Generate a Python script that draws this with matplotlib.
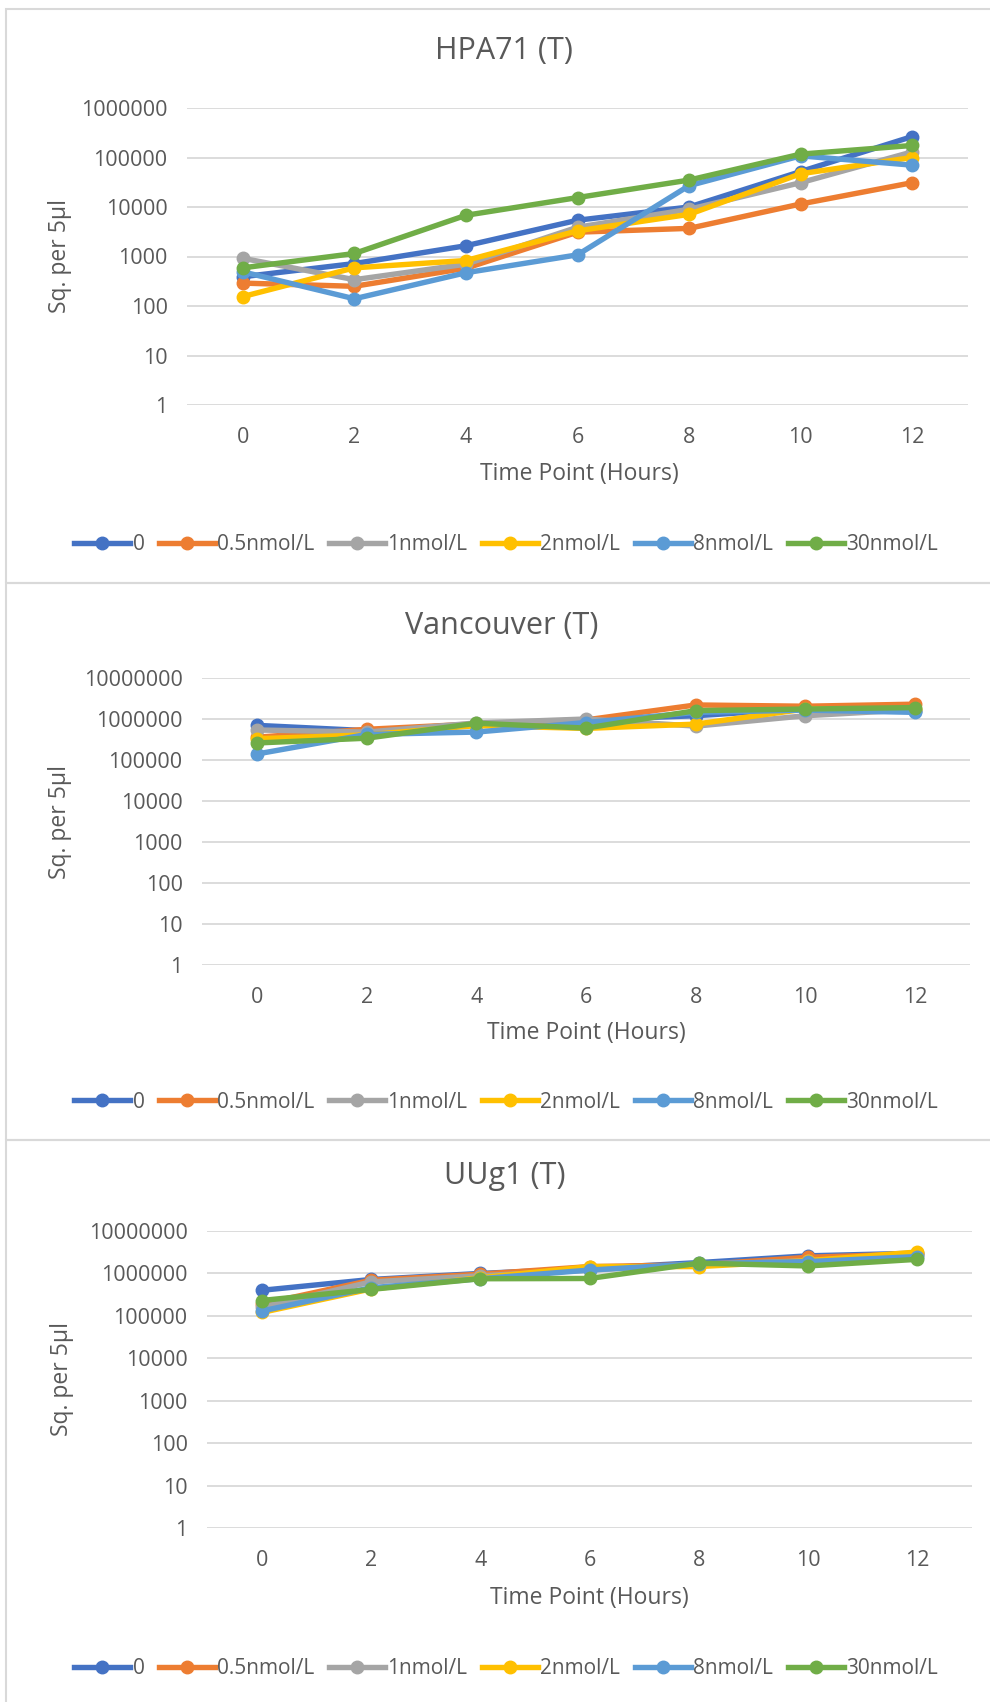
import matplotlib.pyplot as plt
from matplotlib.patches import Rectangle
from matplotlib.lines import Line2D

hours = [0, 2, 4, 6, 8, 10, 12]
series_names = ['0', '0.5nmol/L', '1nmol/L', '2nmol/L', '8nmol/L', '30nmol/L']
colors = ['#4472C4', '#ED7D31', '#A5A5A5', '#FFC000', '#5B9BD5', '#70AD47']

# HPA71 (T)
hpa71 = [
    [390, 720, 1650, 5400, 10000, 52000, 265000],
    [290, 250, 580, 3100, 3700, 11500, 31000],
    [920, 340, 700, 3900, 9000, 31000, 130000],
    [155, 590, 830, 3300, 7100, 47000, 100000],
    [490, 140, 470, 1080, 27000, 108000, 70000],
    [590, 1150, 6800, 15500, 35000, 117000, 175000],
]

# Vancouver (T)
vancouver = [
    [700000, 520000, 750000, 960000, 1200000, 1800000, 1600000],
    [360000, 560000, 760000, 950000, 2200000, 2050000, 2300000],
    [540000, 480000, 800000, 1000000, 670000, 1200000, 1700000],
    [330000, 410000, 690000, 590000, 750000, 1750000, 1800000],
    [140000, 420000, 480000, 820000, 1450000, 1650000, 1450000],
    [260000, 340000, 790000, 600000, 1600000, 1750000, 1900000],
]

# UUg1 (T)
uug1 = [
    [400000, 720000, 1000000, 1300000, 1800000, 2600000, 3000000],
    [190000, 690000, 960000, 1450000, 1600000, 2400000, 2900000],
    [160000, 630000, 880000, 1200000, 1600000, 2000000, 2700000],
    [120000, 430000, 790000, 1450000, 1450000, 2000000, 3200000],
    [130000, 460000, 750000, 1200000, 1700000, 1900000, 2500000],
    [230000, 420000, 750000, 760000, 1750000, 1500000, 2150000],
]

titles = ['HPA71 (T)', 'Vancouver (T)', 'UUg1 (T)']
panels = [hpa71, vancouver, uug1]
y_max = [1e6, 1e7, 1e7]

W, H = 990, 1702
txt = '#595959'
grid_c = '#D9D9D9'
plt.rcParams['font.family'] = ['Open Sans', 'DejaVu Sans']

fig = plt.figure(figsize=(W / 100, H / 100), dpi=100)

# pixel layout: plot area edges, title / ylabel / xlabel centres, legend y, frame top/bottom
layout = [
    dict(l=187, r=968, t=108, b=405, title=(504, 51), ylab=(60, 256), xlab=(579, 474), leg=545, frame=(9, 583)),
    dict(l=202, r=970, t=678, b=965, title=(502, 626), ylab=(60, 822), xlab=(586, 1033), leg=1102, frame=(583, 1140)),
    dict(l=207, r=972, t=1231, b=1528, title=(505, 1176), ylab=(62, 1379), xlab=(589, 1598), leg=1669, frame=(1140, 1720)),
]

for data, title, ym, p in zip(panels, titles, y_max, layout):
    ft, fb = p['frame']
    fig.patches.append(Rectangle((6 / W, 1 - fb / H), 1.1, (fb - ft) / H,
                                 transform=fig.transFigure, fill=False,
                                 edgecolor=grid_c, linewidth=1.5))

    ax = fig.add_axes([p['l'] / W, 1 - p['b'] / H, (p['r'] - p['l']) / W, (p['b'] - p['t']) / H])
    for vals, name, c in zip(data, series_names, colors):
        ax.plot(hours, vals, color=c, linewidth=3.9, marker='o', markersize=9,
                label=name, solid_capstyle='round')
    ndec = len(str(int(ym)))
    ax.set_yscale('log')
    ax.set_ylim(1, ym)
    ax.set_xlim(-1, 13)
    ax.set_xticks(hours)
    ax.set_yticks([10 ** i for i in range(ndec)])
    ax.set_yticklabels([str(10 ** i) for i in range(ndec)])
    ax.minorticks_off()
    ax.grid(axis='y', color=grid_c, linewidth=1.3)
    ax.set_axisbelow(True)
    for s in ax.spines.values():
        s.set_visible(False)
    ax.tick_params(axis='y', length=0, pad=14, labelsize=15.5, labelcolor=txt)
    ax.tick_params(axis='x', length=0, pad=16, labelsize=15.5, labelcolor=txt)

    fig.text(p['title'][0] / W, 1 - p['title'][1] / H, title, ha='center', va='center',
             fontsize=22, color=txt)
    fig.text(p['ylab'][0] / W, 1 - p['ylab'][1] / H, 'Sq. per 5µl', ha='center', va='center',
             rotation=90, fontsize=16.5, color=txt)
    fig.text(p['xlab'][0] / W, 1 - p['xlab'][1] / H, 'Time Point (Hours)', ha='center', va='center',
             fontsize=16.5, color=txt)

    handles = [Line2D([], [], color=c, linewidth=3.9, marker='o', markersize=9) for c in colors]
    fig.legend(handles, series_names, loc='center', bbox_to_anchor=(506 / W, 1 - p['leg'] / H),
               ncol=6, frameon=False, fontsize=15, labelcolor=txt, handlelength=2.7,
               handletextpad=0.1, columnspacing=0.7, borderpad=0)

fig.savefig('out.png', dpi=100)
